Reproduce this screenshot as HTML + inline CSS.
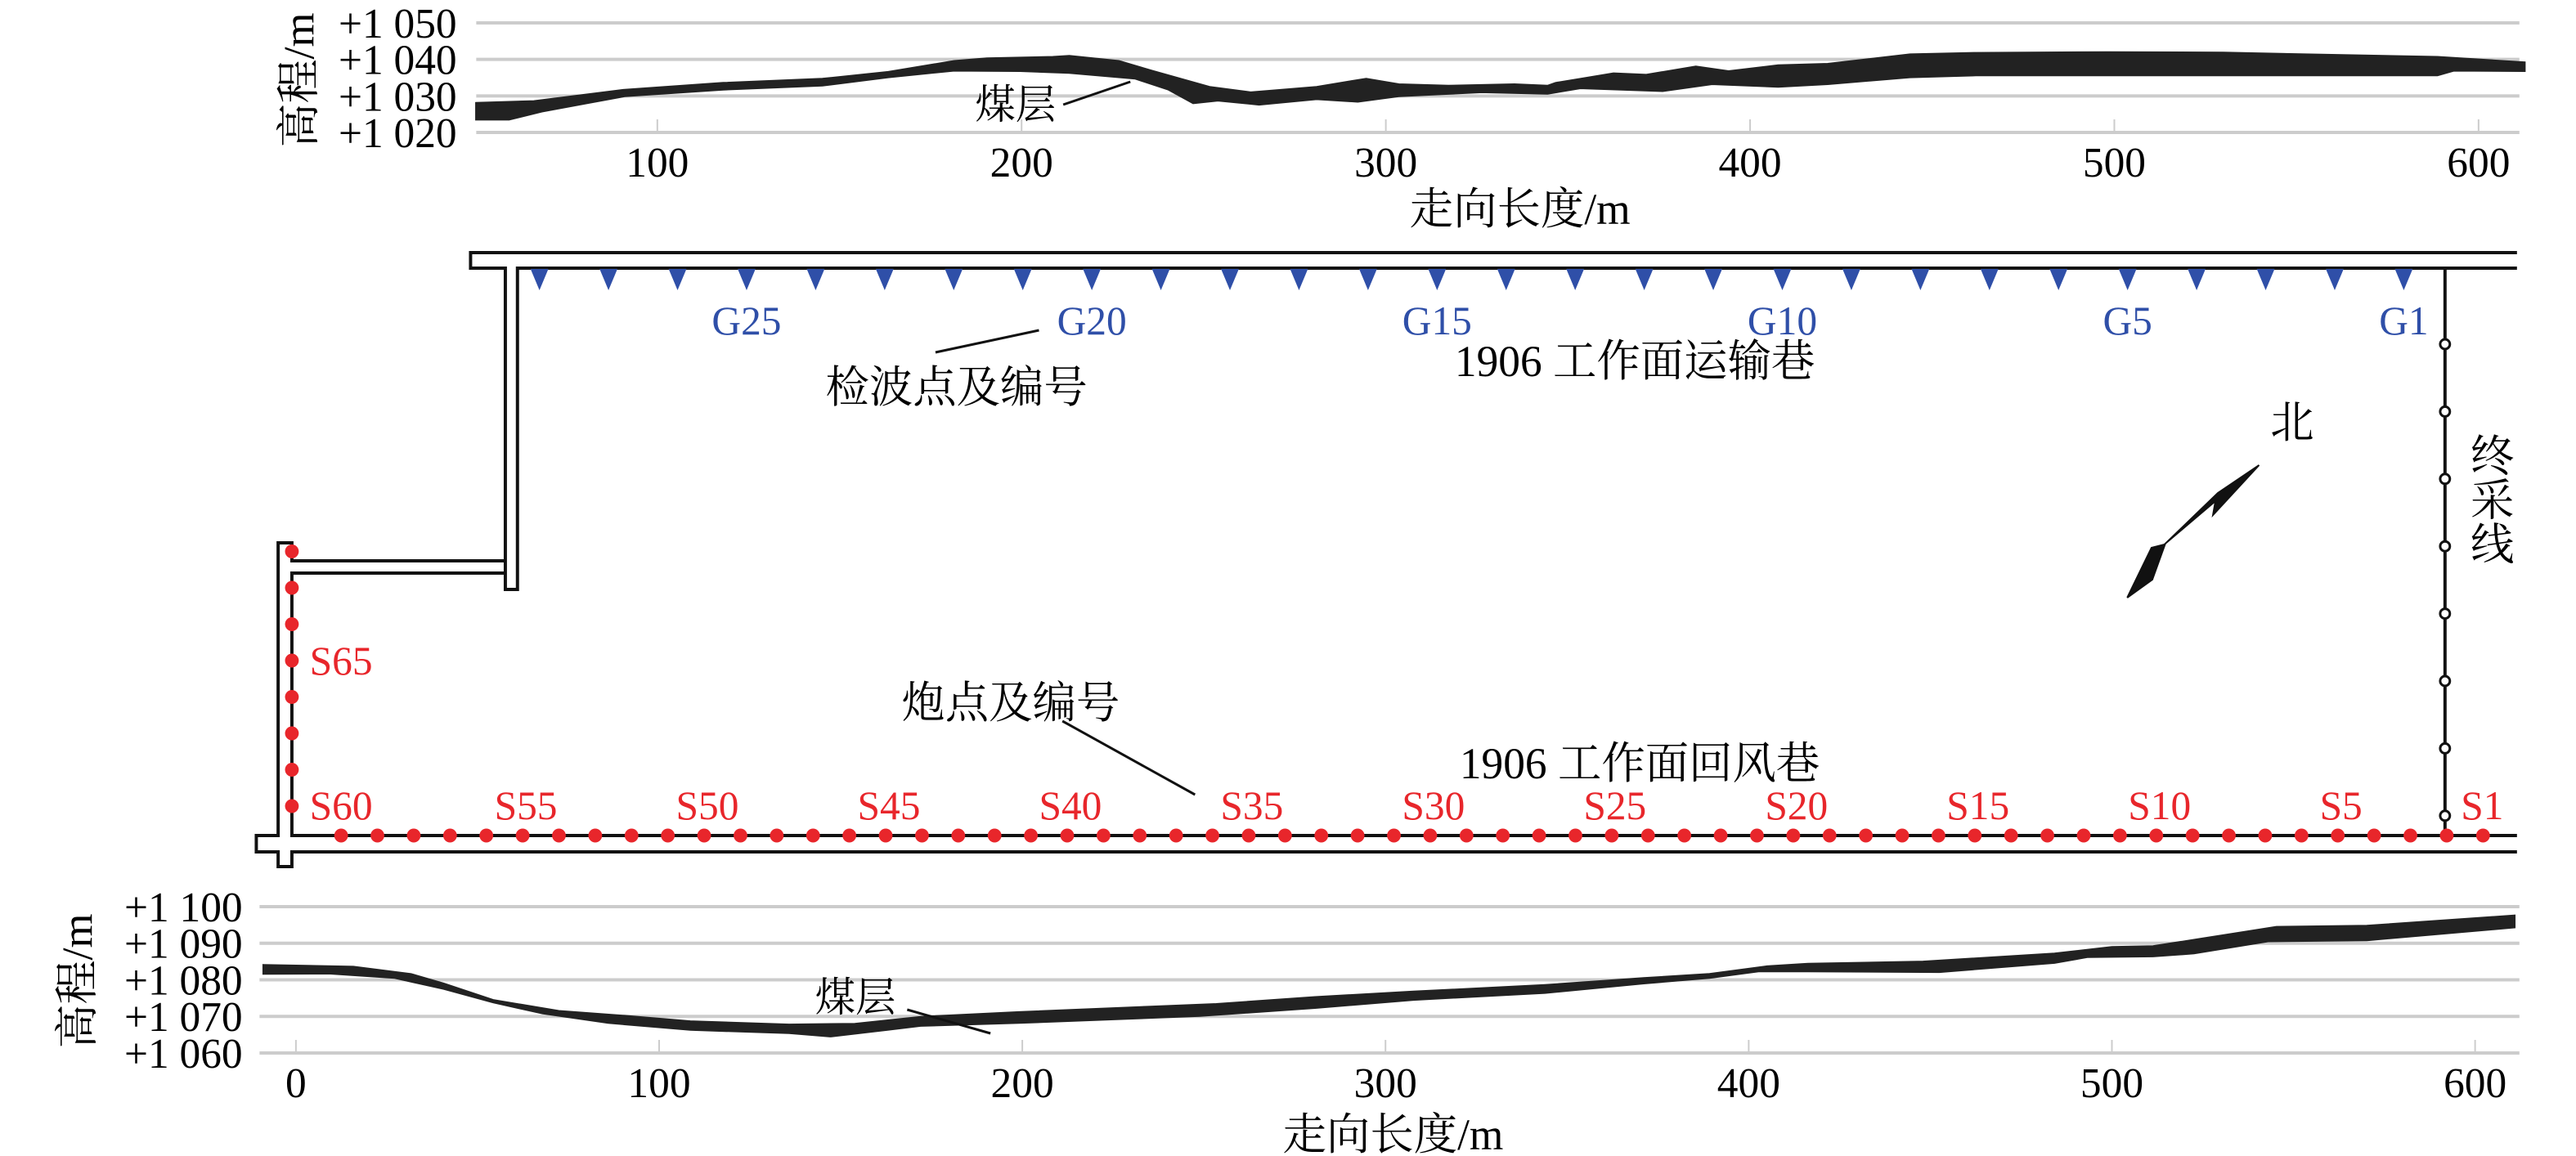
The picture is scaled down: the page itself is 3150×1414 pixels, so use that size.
<!DOCTYPE html>
<html><head><meta charset="utf-8"><style>
html,body{margin:0;padding:0;background:#fff;}
svg{display:block;}
text{font-family:"Liberation Serif","Noto Serif CJK SC",serif;}
</style></head><body>
<svg id="fig" width="3150" height="1414" viewBox="0 0 3150 1414" xmlns="http://www.w3.org/2000/svg">
<g transform="scale(0.9887,1)">
<g id="top"></g>
<g id="mid"></g>
<g id="bot"></g>
</g>
</svg>
<script>
// ---- top chart data (运输巷 profile) ----
const topXTicks = [100, 200, 300, 400, 500, 600];
const topYTicks = [1020, 1030, 1040, 1050];
const topYLabels = ["+1 020", "+1 030", "+1 040", "+1 050"];
const topUpperX = [50.2,66.1,91,118.1,145.3,163.4,181.5,190.5,208.6,213.1,226.7,235.8,251.6,262.9,281,290.1,294.6,303.6,317.2,335.3,344.4,346.6,353.4,362.5,371.5,385.1,394.1,407.7,421.3,443.9,462,498.2,529.9,552.5,588.7,612.7];
const topUpperY = [1028.1,1028.6,1031.7,1033.6,1034.7,1036.6,1039.6,1040.3,1040.7,1041,1039.6,1036.9,1032.5,1031,1032.5,1034,1034.7,1033.2,1032.8,1033.2,1032.8,1033.6,1034.7,1036.2,1035.8,1038.1,1036.8,1038.4,1038.8,1041.4,1041.8,1042,1041.9,1041.4,1040.7,1039.2];
const topLowerX = [50.2,59.3,68.3,91,118.1,145.3,163.4,181.5,199.6,213.1,231.2,240.3,247.1,253.9,265.2,281,292.3,303.6,326.3,344.4,353.4,364.7,376,389.6,407.7,421.3,443.9,462,507.3,588.7,593.2,612.7];
const topLowerY = [1023.5,1023.5,1025.7,1029.9,1031.7,1032.8,1035.1,1036.9,1036.8,1036.3,1034.7,1031.7,1028,1028.7,1027.6,1029.1,1028.4,1029.9,1031,1030.6,1032.1,1031.7,1031.3,1033.2,1032.5,1033.2,1035.1,1035.6,1035.6,1035.6,1036.9,1036.8];
// ---- bottom chart data (回风巷 profile) ----
const botXTicks = [0, 100, 200, 300, 400, 500, 600];
const botYTicks = [1060, 1070, 1080, 1090, 1100];
const botYLabels = ["+1 060", "+1 070", "+1 080", "+1 090", "+1 100"];
const botUpperX = [-9,15.8,31.7,40.7,54.3,72.4,90.5,108.6,135.8,153.9,172,199.1,235.3,253.4,280.6,307.7,343.9,371.1,389.2,405,416.3,448,484.2,500,511.3,524.9,545.3,570.2,610.9];
const botUpperY = [1084.1,1083.6,1081.6,1079,1074.5,1071.5,1070.2,1068.7,1067.8,1068,1069.9,1071.2,1072.7,1073.4,1075.3,1076.8,1078.6,1080.5,1081.6,1083.7,1084.4,1085,1087.2,1089,1089.2,1091.3,1094.5,1094.8,1097.6];
const botLowerX = [-9,9.1,27.2,40.7,54.3,67.9,86,108.6,135.8,147.1,162.9,172,199.1,248.9,280.6,307.7,343.9,371.1,389.2,402.7,416.3,452.5,484.2,493.2,511.3,522.6,543,570.2,610.9];
const botLowerY = [1081.6,1081.7,1080.5,1077.5,1073.8,1070.8,1068.2,1066.3,1065.4,1064.5,1066.3,1067.4,1068.2,1070.1,1072.3,1074.5,1076.4,1079,1080.5,1082.3,1082.3,1082.1,1084.6,1086.2,1086.4,1087.2,1090.5,1090.8,1094.3];
// ---- plan data ----
const geophoneCount = 28;
const geophoneLabels = [1, 5, 10, 15, 20, 25];
const shotCount = 68;
const shotLabels = [1, 5, 10, 15, 20, 25, 30, 35, 40, 45, 50, 55, 60, 65];

const NS = "http://www.w3.org/2000/svg";
function el(parent, tag, attrs, txt) {
  const e = document.createElementNS(NS, tag);
  for (const k in attrs) e.setAttribute(k, attrs[k]);
  if (txt !== undefined) e.textContent = txt;
  parent.appendChild(e);
  return e;
}

function chart(g, o) {
  const sx = v => o.x0px + (v - o.x0v) * o.kx;
  const sy = v => o.ybot + (v - o.ymin) * (o.ytop - o.ybot) / (o.ymax - o.ymin);
  o.yTicks.forEach((v, i) => {
    const l = el(g, "line", {x1: o.left, x2: o.right, y1: sy(v), y2: sy(v), stroke: "#cccccc", "stroke-width": 4});
    
    
    const t = el(g, "text", {x: o.ylabX, y: sy(v) + 18, "text-anchor": "end", "font-size": 52}, o.yLabels[i]);
    
    
  });
  o.xTicks.forEach(v => {
    const l = el(g, "line", {x1: sx(v), x2: sx(v), y1: o.ybot - 16, y2: o.ybot, stroke: "#cccccc", "stroke-width": 2});
    
    
    const t = el(g, "text", {x: sx(v), y: o.xlabY, "text-anchor": "middle", "font-size": 52}, String(v));
    
    
  });
  let d = "";
  o.ux.forEach((v, i) => { d += (i ? "L" : "M") + sx(v).toFixed(1) + "," + sy(o.uy[i]).toFixed(1); });
  for (let i = o.lx.length - 1; i >= 0; i--) d += "L" + sx(o.lx[i]).toFixed(1) + "," + sy(o.ly[i]).toFixed(1);
  d += "Z";
  const p = el(g, "path", {d: d, fill: "#222", stroke: "#222", "stroke-width": 2});
  
  
  const xt = el(g, "text", {x: o.xtitle[0], y: o.xtitle[1], "text-anchor": "middle", "font-size": 54}, "走向长度/m");
  
  
  const yt = el(g, "text", {x: 0, y: 0, "text-anchor": "middle", "font-size": 54, transform: "translate(" + o.ytitle[0] + "," + o.ytitle[1] + ") rotate(-90)"}, "高程/m");
  
  
  const lt = el(g, "text", {x: o.seamLab[0], y: o.seamLab[1], "text-anchor": "middle", "font-size": 50}, "煤层");
  
  
  const ll = el(g, "line", {x1: o.lead[0], y1: o.lead[1], x2: o.lead[2], y2: o.lead[3], stroke: "#111", "stroke-width": 3});
  
  
}

chart(document.getElementById("top"), {
  x0v: 100, x0px: 813, kx: 4.505, left: 589, right: 3116,
  ymin: 1020, ymax: 1050, ybot: 162, ytop: 28, ylabX: 565, xlabY: 216,
  yTicks: topYTicks, yLabels: topYLabels, xTicks: topXTicks,
  ux: topUpperX, uy: topUpperY, lx: topLowerX, ly: topLowerY,
  xtitle: [1880, 274], ytitle: [388, 98], seamLab: [1256, 145], lead: [1315, 128, 1398, 100]
});
chart(document.getElementById("bot"), {
  x0v: 0, x0px: 366, kx: 4.492, left: 321, right: 3116,
  ymin: 1060, ymax: 1100, ybot: 1288, ytop: 1109, ylabX: 300, xlabY: 1342,
  yTicks: botYTicks, yLabels: botYLabels, xTicks: botXTicks,
  ux: botUpperX, uy: botUpperY, lx: botLowerX, ly: botLowerY,
  xtitle: [1723, 1406], ytitle: [114, 1200], seamLab: [1058, 1237], lead: [1122, 1235, 1225, 1264]
});

// ---- plan view ----
const m = document.getElementById("mid");
const walls = [
  "M3113,309 L582,309 L582,328 L625,328 L625,721 L640,721 L640,328 L3113,328",
  "M625,686 L361,686 L361,664 L344,664 L344,1022 L317,1022 L317,1042 L344,1042 L344,1060 L361,1060 L361,1042 L3113,1042",
  "M625,701 L361,701 L361,1022 L3113,1022",
  "M3024,328 L3024,1022"
];
walls.forEach(d => {
  const w = el(m, "path", {d: d, fill: "none", stroke: "#111", "stroke-width": 4});
  
  
});
for (let i = 0; i < 8; i++) {
  const c = el(m, "circle", {cx: 3024, cy: 421 + i * 82.4, r: 6, fill: "#fff", stroke: "#111", "stroke-width": 3});
  
  
}
const gx = n => 2973 - (n - 1) * 85.4;
for (let n = 1; n <= geophoneCount; n++) {
  const x = gx(n);
  const t = el(m, "polygon", {points: (x - 11) + ",329 " + (x + 11) + ",329 " + x + ",355", fill: "#2f4fa8"});
  
  
}
geophoneLabels.forEach(n => {
  const t = el(m, "text", {x: gx(n), y: 409, "text-anchor": "middle", "font-size": 50, fill: "#2f4fa8"}, "G" + n);
  
  
});
function shotPos(n) {
  if (n <= 60) return [3071 - (n - 1) * 44.9, 1022];
  return [361, 986 - (n - 61) * 44.5];
}
for (let n = 1; n <= shotCount; n++) {
  const p = shotPos(n);
  const c = el(m, "circle", {cx: p[0], cy: p[1], r: 8.5, fill: "#e8262b"});
  
  
}
shotLabels.forEach(n => {
  const p = shotPos(n);
  let x, y, anchor;
  if (n <= 60) { x = p[0] + 4; y = 1002; anchor = "middle"; if (n === 1) x = 3070; if (n === 60) { x = 383; anchor = "start"; } }
  else { x = 383; y = p[1] + 17; anchor = "start"; }
  const t = el(m, "text", {x: x, y: y, "text-anchor": anchor, "font-size": 50, fill: "#e8262b"}, "S" + n);
  
  
});
const notes = [
  ["检波点及编号", 1183, 492, "geophone-annotation"],
  ["1906 工作面运输巷", 2022, 460, "haulage-roadway-label"],
  ["炮点及编号", 1250, 878, "shot-annotation"],
  ["1906 工作面回风巷", 2028, 952, "return-airway-label"],
  ["北", 2835, 535, "north-label"]
];
notes.forEach(a => {
  const t = el(m, "text", {x: a[1], y: a[2], "text-anchor": "middle", "font-size": 54}, a[0]);
  
  
});
const vt = el(m, "text", {x: 3078, y: 610, "text-anchor": "middle", "font-size": 54, "writing-mode": "tb", "glyph-orientation-vertical": "0"}, "终采线");


[[1157, 431, 1285, 404], [1314, 882, 1478, 972]].forEach(l => {
  const e = el(m, "line", {x1: l[0], y1: l[1], x2: l[2], y2: l[3], stroke: "#111", "stroke-width": 3});
  
  
});
const arrow = el(m, "path", {d: "M2631,731 L2662,709 L2678,665 L2740,613 L2737,630 L2794,569 L2743,603 L2677,666 L2661,670 Z", fill: "#111", stroke: "#111", "stroke-width": 2});


</script>
</body></html>
